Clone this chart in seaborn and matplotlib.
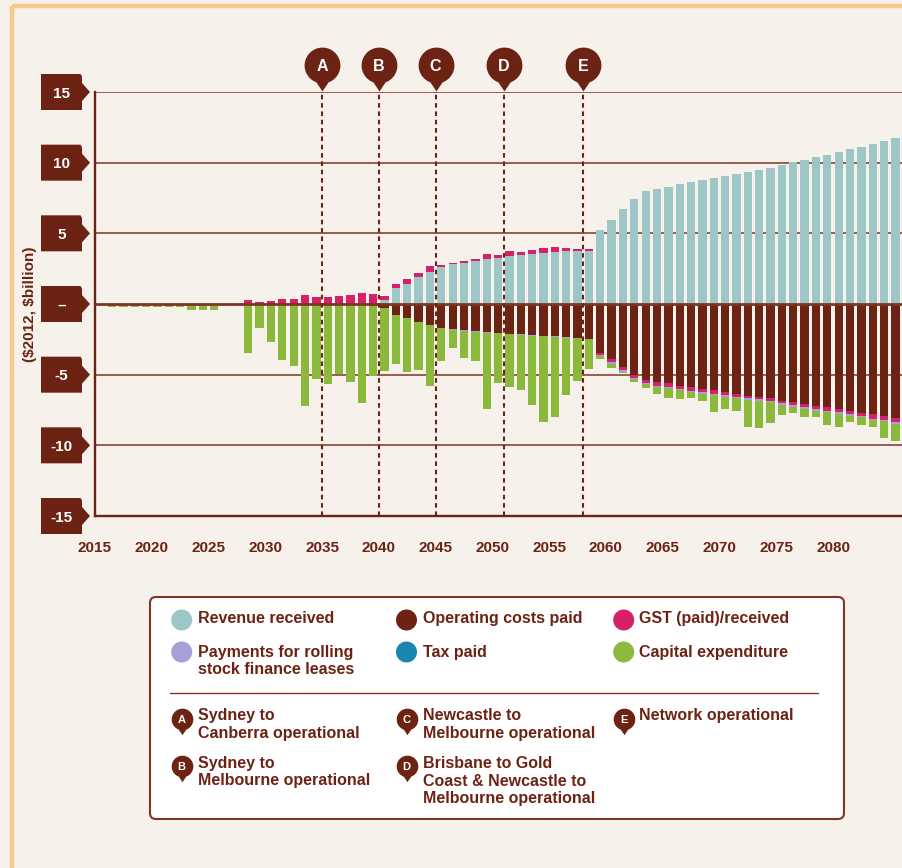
import numpy as np
import pandas as pd
import matplotlib
matplotlib.use("Agg")
import matplotlib.pyplot as plt
import matplotlib.transforms as mtransforms
from matplotlib.path import Path
from matplotlib.patches import Polygon, FancyBboxPatch, Rectangle, Circle
from matplotlib.lines import Line2D
import seaborn as sns

# ---------------------------------------------------------------- data
# Financial year bars (left edge of each year span), $2012 billion
years = list(range(2016, 2086))

revenue = [
    0, 0, 0, 0, 0, 0, 0, 0, 0, 0,
    0, 0, 0, 0, 0, 0, 0, 0, 0, 0,
    0, 0, 0, 0, 0.30, 1.10, 1.41, 1.91, 2.26, 2.60,
    2.83, 2.92, 3.04, 3.16, 3.27, 3.42, 3.47, 3.54, 3.60, 3.68,
    3.75, 3.77, 3.77, 5.24, 5.95, 6.72, 7.43, 7.97, 8.13, 8.27,
    8.46, 8.60, 8.74, 8.91, 9.03, 9.20, 9.31, 9.50, 9.65, 9.84,
    10.03, 10.17, 10.38, 10.57, 10.76, 10.95, 11.09, 11.31, 11.54, 11.73,
]

gst = [
    0, 0, 0, 0, 0, 0, 0, 0, 0, 0,
    0, 0, 0.25, 0.14, 0.19, 0.33, 0.35, 0.61, 0.50, 0.50,
    0.55, 0.65, 0.75, 0.70, 0.30, 0.29, 0.38, 0.26, 0.43, 0.16,
    0.05, 0.12, 0.13, 0.38, 0.20, 0.31, 0.21, 0.28, 0.34, 0.32,
    0.19, 0.10, 0.10, -0.12, -0.24, -0.21, -0.19, -0.19, -0.28, -0.24,
    -0.21, -0.24, -0.24, -0.24, -0.24, -0.19, -0.17, -0.17, -0.17, -0.19,
    -0.21, -0.21, -0.24, -0.24, -0.21, -0.21, -0.21, -0.33, -0.28, -0.31,
]

op_costs = [
    0, 0, 0, 0, 0, 0, 0, 0, 0, 0,
    0, 0, 0, 0, 0, 0, 0, 0, 0, 0,
    0, 0, -0.08, -0.15, -0.30, -0.75, -1.00, -1.30, -1.49, -1.72,
    -1.79, -1.84, -1.93, -1.98, -2.03, -2.10, -2.12, -2.19, -2.24, -2.29,
    -2.33, -2.38, -2.45, -3.49, -3.89, -4.48, -5.02, -5.38, -5.50, -5.61,
    -5.78, -5.89, -5.99, -6.10, -6.22, -6.36, -6.50, -6.57, -6.66, -6.83,
    -6.95, -7.09, -7.20, -7.30, -7.44, -7.56, -7.70, -7.79, -7.90, -8.04,
]

leases = [
    0, 0, 0, 0, 0, 0, 0, 0, 0, 0,
    0, 0, 0, 0, 0, 0, 0, 0, 0, 0,
    0, 0, 0, 0, 0, 0, 0, 0, 0, 0,
    -0.05, -0.05, -0.05, -0.05, -0.05, -0.05, -0.05, -0.05, -0.05, -0.05,
    -0.05, -0.05, -0.05, -0.10, -0.12, -0.12, -0.12, -0.12, -0.12, -0.12,
    -0.12, -0.12, -0.12, -0.12, -0.12, -0.12, -0.12, -0.12, -0.12, -0.12,
    -0.12, -0.12, -0.12, -0.12, -0.12, -0.12, -0.12, -0.12, -0.12, -0.12,
]

capex = [
    -0.23, -0.23, -0.23, -0.23, -0.23, -0.23, -0.23, -0.45, -0.45, -0.45,
    0, 0, -3.49, -1.67, -2.67, -3.99, -4.39, -7.24, -5.33, -5.64,
    -4.95, -5.54, -6.96, -4.97, -4.47, -3.47, -3.79, -3.35, -4.31, -2.31,
    -1.30, -1.96, -2.05, -5.38, -3.54, -3.70, -3.94, -4.91, -6.04, -5.68,
    -4.08, -3.02, -2.12, -0.20, -0.26, -0.10, -0.17, -0.24, -0.45, -0.66,
    -0.59, -0.42, -0.50, -1.16, -0.87, -0.87, -1.89, -1.91, -1.44, -0.68,
    -0.40, -0.54, -0.47, -0.90, -0.92, -0.45, -0.52, -0.45, -1.20, -1.20,
]

y_ticks = [15, 10, 5, 0, -5, -10, -15]
y_tick_labels = ["15", "10", "5", "\u2013", "-5", "-10", "-15"]
x_major = list(range(2015, 2085, 5))
x_minor = list(range(2015, 2086))

milestones = ["A", "B", "C", "D", "E"]
milestone_years = [2035, 2040, 2045, 2051, 2058]
milestone_notes = [
    "Sydney to\nCanberra operational",
    "Sydney to\nMelbourne operational",
    "Newcastle to\nMelbourne operational",
    "Brisbane to Gold\nCoast & Newcastle to\nMelbourne operational",
    "Network operational",
]

series_labels = [
    "Revenue received", "Operating costs paid", "GST (paid)/received",
    "Payments for rolling\nstock finance leases", "Tax paid", "Capital expenditure",
]

# ---------------------------------------------------------------- style
BG = "#F6F1EB"
FRAME = "#F9C98C"
BROWN = "#6C2313"
LINE = "#7E3524"
TEAL = "#9DC7C6"
PINK = "#D6206A"
GREEN = "#8AB93B"
LAVENDER = "#A3A1D6"
BLUE = "#1B84AF"
series_colors = [TEAL, BROWN, PINK, LAVENDER, BLUE, GREEN]

sns.set_style("white")
plt.rcParams["font.family"] = ["Liberation Sans", "DejaVu Sans"]
plt.rcParams["font.weight"] = "bold"

W, H = 903, 868
fig = plt.figure(figsize=(W / 100, H / 100), dpi=100, facecolor=BG)
# image-pixel coordinates (origin top-left)
px = mtransforms.Affine2D().scale(1, -1).translate(0, H)

X0, X1 = 2015, 2015 + 808 / 11.354
ax = fig.add_axes([95 / W, 1 - 516 / H, 808 / W, 424 / H])
ax.set_facecolor("none")

# outer frame
fig.add_artist(Rectangle((12, 6), 1000, 1000, transform=px, fill=False,
                         edgecolor=FRAME, lw=3.2, zorder=0))

# ---------------------------------------------------------------- stacks
df = pd.DataFrame({"year": years, "revenue": revenue, "gst": gst,
                   "op_costs": op_costs, "leases": leases, "capex": capex})
df["xpos"] = df["year"] + 0.5
gst_pos = df["gst"].clip(lower=0)
gst_neg = df["gst"].clip(upper=0)
df["rev_top"] = df["revenue"] + gst_pos
df["neg_gst"] = df["op_costs"] + gst_neg
df["neg_lease"] = df["neg_gst"] + df["leases"]
df["neg_capex"] = df["neg_lease"] + df["capex"]

layers = [("rev_top", PINK), ("revenue", TEAL),
          ("neg_capex", GREEN), ("neg_lease", LAVENDER),
          ("neg_gst", PINK), ("op_costs", BROWN)]
for col, colr in layers:
    sns.barplot(data=df, x="xpos", y=col, native_scale=True, color=colr,
                saturation=1, width=0.73, errorbar=None, linewidth=0,
                zorder=2, ax=ax)

ax.set_xlim(X0, X1)
ax.set_ylim(-15, 15)
ax.set_xlabel("")
ax.set_ylabel("")

# horizontal rules
for v in y_ticks[:-1]:
    if v == 0:
        ax.axhline(v, color=LINE, lw=2.0, zorder=3)
    else:
        ax.axhline(v, color=LINE, lw=1.1, zorder=1)

# spines and ticks
for s in ("top", "right"):
    ax.spines[s].set_visible(False)
for s in ("left", "bottom"):
    ax.spines[s].set_color(BROWN)
    ax.spines[s].set_linewidth(1.7)
ax.set_yticks([])
ax.set_xticks(x_major)
ax.set_xticks(x_minor, minor=True)
ax.set_xticklabels([str(y) for y in x_major])
ax.tick_params(axis="x", which="major", direction="out", length=6.5, width=1.5,
               color=BROWN, labelcolor=BROWN, labelsize=11, pad=11.5)
ax.tick_params(axis="x", which="minor", direction="out", length=3, width=1.2,
               color=BROWN)
for lab in ax.get_xticklabels():
    lab.set_fontweight("bold")

# y tick flags
flag = [(-54, 18), (-14.5, 18), (-13, 15.5), (-13, 9), (-5, 0),
        (-13, -9), (-13, -18), (-54, -18)]
for v, lab in zip(y_ticks, y_tick_labels):
    tr = mtransforms.Affine2D() + mtransforms.ScaledTranslation(0, v, ax.get_yaxis_transform())
    ax.add_patch(Polygon(flag, closed=True, transform=tr, facecolor=BROWN,
                         edgecolor="none", clip_on=False, zorder=5))
    ax.annotate(lab, xy=(0, v), xycoords=ax.get_yaxis_transform(),
                xytext=(-33.5 * 0.72, 0), textcoords="offset points",
                ha="center", va="center_baseline", color="white",
                fontsize=11, fontweight="bold", zorder=6, annotation_clip=False)

ax.text(-0.081, 0, r"(\$2012, \$billion)", transform=ax.get_yaxis_transform(),
        rotation=90, ha="center", va="center", color=BROWN, fontsize=11,
        fontweight="bold")

# milestone pins
ang = np.radians(np.linspace(-70, 250, 60))
pin_verts = list(zip(np.cos(ang), np.sin(ang))) + [(0, -1.45), (np.cos(ang[0]), np.sin(ang[0]))]
pin_codes = [Path.MOVETO] + [Path.LINETO] * (len(pin_verts) - 2) + [Path.CLOSEPOLY]
PIN = Path(pin_verts, pin_codes)

ax.vlines(milestone_years, -15, 15, colors=BROWN, linestyles=(0, (2.2, 1.8)),
          lw=1.5, zorder=4)
pin_y = 1.0637
ax.plot(milestone_years, [pin_y] * len(milestone_years), ls="none", marker=PIN,
        ms=37.4, color=BROWN, mew=0, transform=ax.get_xaxis_transform(),
        clip_on=False, zorder=5)
for yr, m in zip(milestone_years, milestones):
    ax.text(yr, pin_y, m, transform=ax.get_xaxis_transform(), ha="center",
            va="center_baseline", color="white", fontsize=11.5,
            fontweight="bold", zorder=6, clip_on=False)

# ---------------------------------------------------------------- legend panel
fig.add_artist(FancyBboxPatch((150, 597), 694, 222, transform=px,
                              boxstyle="round,pad=0,rounding_size=6",
                              facecolor="#FFFFFF", edgecolor=LINE, lw=1.5))
fig.add_artist(Line2D([170, 818], [693.3, 693.3], transform=px, color=LINE, lw=1.0))

col_circle = [181.7, 406.5, 623.7]
col_text = [198, 422.7, 639.3]
LINE_STEP = 17.8
TXT = dict(color=BROWN, fontsize=11.5, fontweight="bold", ha="left",
           va="baseline", transform=px)

series_rows = [(620, 623.3), (652, 656.7)]
for i, (lab, colr) in enumerate(zip(series_labels, series_colors)):
    r, c = divmod(i, 3)
    cy, base = series_rows[r]
    fig.add_artist(Circle((col_circle[c], cy), 10.5, transform=px,
                          facecolor=colr, edgecolor="none"))
    for k, line in enumerate(lab.split("\n")):
        fig.text(col_text[c], base + k * LINE_STEP, line, **TXT)

milestone_slots = [(0, 0), (0, 1), (1, 0), (1, 1), (2, 0)]
milestone_rows = [(719, 720), (766, 767.7)]
for m, note, (c, r) in zip(milestones, milestone_notes, milestone_slots):
    cy, base = milestone_rows[r]
    fig.add_artist(Line2D([col_circle[c]], [cy], transform=px, ls="none",
                          marker=PIN, ms=22.6, color=BROWN, mew=0))
    fig.text(col_circle[c], cy, m, transform=px, ha="center",
             va="center_baseline", color="white", fontsize=8, fontweight="bold")
    for k, line in enumerate(note.split("\n")):
        fig.text(col_text[c], base + k * LINE_STEP, line, **TXT)

fig.savefig("out.png", dpi=100, facecolor=BG)
